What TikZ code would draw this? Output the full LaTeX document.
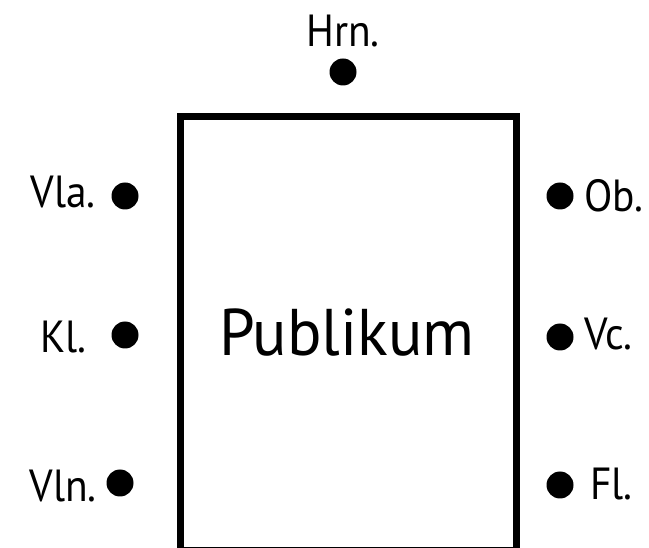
\documentclass[tikz,border=0pt]{standalone}
\usepackage{fontspec}
\setmainfont{PT Sans}
\newcommand{\narrowtext}[2]{\scalebox{#1}[1]{#2}}
\begin{document}
\begin{tikzpicture}[x=1pt,y=-1pt,
  seat/.style={circle,fill=black,inner sep=0pt,minimum size=27pt},
  lbl/.style={inner sep=0pt,font=\fontsize{45}{50}\selectfont},
  hall/.style={draw=black,line width=7pt}]
\useasboundingbox (0,0) rectangle (649,548);
\begin{scope}
\clip (0,0) rectangle (649,548);
\draw[hall] (180,117) rectangle (516,550);
\end{scope}
\node[inner sep=0pt,font=\fontsize{66}{70}\selectfont,anchor=base] (pub) at (347,356) {\narrowtext{0.97}{Publikum}};
\node[seat] (hrn) at (343,72) {};
\node[seat] (vla) at (125,196) {};
\node[seat] (kl) at (125,335) {};
\node[seat] (vln) at (120,483) {};
\node[seat] (ob) at (560,196) {};
\node[seat] (vc) at (560,337) {};
\node[seat] (fl) at (560,485) {};
\node[lbl,anchor=base] (thrn) at (343,47) {\narrowtext{0.92}{Hrn.}};
\node[lbl,anchor=base east] (tvla) at (96,208) {\narrowtext{0.92}{Vla.}};
\node[lbl,anchor=base east] (tkl) at (87,353) {\narrowtext{0.92}{Kl.}};
\node[lbl,anchor=base east] (tvln) at (97,502) {\narrowtext{0.92}{Vln.}};
\node[lbl,anchor=base west] (tob) at (584,212) {\narrowtext{0.92}{Ob.}};
\node[lbl,anchor=base west] (tvc) at (584,350) {\narrowtext{0.92}{Vc.}};
\node[lbl,anchor=base west] (tfl) at (590,500) {\narrowtext{0.92}{Fl.}};
\end{tikzpicture}
\end{document}
